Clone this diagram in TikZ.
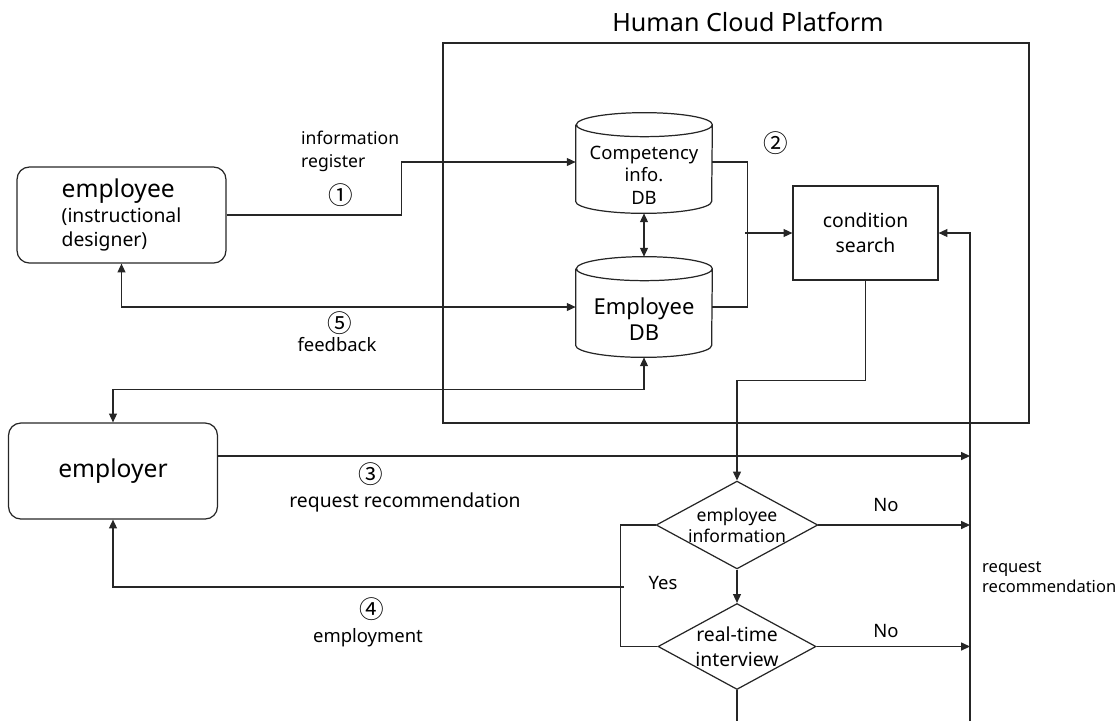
\documentclass[tikz,border=0pt]{standalone}
\usepackage{fontspec}
\setmainfont{Noto Sans}
\newfontfamily\circfont{Noto Sans CJK KR}
\usetikzlibrary{arrows.meta, shapes.geometric, positioning}

\begin{document}
\begin{tikzpicture}
    [
        x=0.02cm, y=-0.02cm,
        >={Triangle[length=5pt, width=4.5pt]},
        conn/.style={draw=black!85, line width=0.7pt},
        actor/.style={rectangle, rounded corners=7pt, draw=black!85, line width=0.7pt, minimum width=4.18cm, minimum height=1.92cm, align=left, font=\fontsize{11}{14}\selectfont},
        db/.style={rectangle, minimum width=2.72cm, minimum height=1.52cm, align=center},
        procbox/.style={rectangle, draw=black!85, line width=0.7pt, minimum width=2.9cm, minimum height=1.88cm, align=center, font=\fontsize{11}{14}\selectfont},
        decision/.style={diamond, draw=black!85, line width=0.7pt, aspect=1.84, inner sep=0pt, minimum width=3.16cm, minimum height=1.72cm, align=center},
        lbl/.style={font=\fontsize{10.5}{13}\selectfont},
        num/.style={font=\circfont\fontsize{14}{16}\selectfont},
    ]
    \useasboundingbox (0,0) rectangle (1119,721);

    \node (platform) at (736,233) [rectangle, draw=black!85, line width=0.7pt, minimum width=11.72cm, minimum height=7.6cm] {};
    \node (title) at (748,22) [font=\fontsize{14.3}{17}\selectfont] {Human Cloud Platform};

    \node (employee) at (121.5,215) [actor] {{\fontsize{14}{17}\selectfont employee}\\(instructional\\designer)};
    \node (employer) at (113,471) [actor] {\fontsize{14}{17}\selectfont employer};

    \node (compdb) at (644,175) [db, font=\fontsize{10.5}{12.8}\selectfont] {Competency\\info.\\DB};
    \node (empdb) at (644,319) [db, font=\fontsize{12.5}{14.7}\selectfont] {Employee\\DB};
    \foreach \n in {compdb, empdb}
        \draw[conn] ([yshift=0.24cm]\n.north west) -- ([yshift=0.24cm]\n.south west)
            arc[start angle=180, end angle=360, x radius=1.36cm, y radius=0.24cm]
            -- ([yshift=0.24cm]\n.north east)
            arc[start angle=0, end angle=180, x radius=1.36cm, y radius=0.24cm]
            arc[start angle=180, end angle=360, x radius=1.36cm, y radius=0.24cm];

    \node (search) at (865.5,233) [procbox] {condition\\search};
    \node (empinfo) at (737,525) [decision, font=\fontsize{10}{12}\selectfont] {employee\\information};
    \node (interview) at (737,646.5) [decision, font=\fontsize{11}{14}\selectfont] {real-time\\interview};

    \coordinate (rbot) at (970,721);
    \coordinate (cbot) at (737,721);
    \coordinate (yesjoin) at (624,587);

    \draw[conn, ->] (employee.east) -- ++(175,0) |- ([yshift=0.26cm]compdb.west);
    \draw[conn, <->] (employee.south) |- ([yshift=0.24cm]empdb.west);
    \draw[conn, <->] (compdb.south) -- ([yshift=0.48cm]empdb.north);
    \draw[conn] ([yshift=0.26cm]compdb.east) -- ++(35,0) |- ([yshift=0.24cm]empdb.east);
    \draw[conn, ->] ([xshift=-0.94cm]search.west) -- (search.west);
    \draw[conn, <->] (employer.north) -- ++(0,-33) -| (empdb.south);
    \draw[conn, ->] (search.south) -- ++(0,100) -| (empinfo.north);
    \draw[conn, ->] (rbot) |- (search.east);
    \draw[conn, ->] ([yshift=0.3cm]employer.east) -- ([yshift=0.3cm]employer.east -| rbot);
    \draw[conn, ->] (empinfo.east) -- (empinfo.east -| rbot);
    \draw[conn, ->] (interview.east) -- (interview.east -| rbot);
    \draw[conn, ->] (empinfo.south) -- (interview.north);
    \draw[conn] (interview.south) -- (cbot);
    \draw[conn] (empinfo.west) -- ++(-35,0) |- (interview.west);
    \draw[conn, ->] (yesjoin) -| (employer.south);

    \node (reglabel) at (295,151.5) [anchor=west, align=left, font=\fontsize{10}{12.8}\selectfont] {information\\register};
    \node (num1) at (341,195) [num] {①};
    \node (num2) at (776,143) [num] {②};
    \node (num3) at (371,474) [num] {③};
    \node (reqlabel) at (405,502) [font=\fontsize{11}{13}\selectfont] {request recommendation};
    \node (num4) at (372,609) [num] {④};
    \node (hirelabel) at (368,638) [lbl] {employment};
    \node (num5) at (340,323) [num] {⑤};
    \node (fblabel) at (337,345) [lbl] {feedback};
    \node (yeslabel) at (663,583) [lbl] {Yes};
    \node (nolabel1) at (886,505) [lbl] {No};
    \node (nolabel2) at (886,631) [lbl] {No};
    \node (sidelabel) at (976,577) [anchor=west, align=left, font=\fontsize{9.4}{11.5}\selectfont] {request\\recommendation};
\end{tikzpicture}
\end{document}
